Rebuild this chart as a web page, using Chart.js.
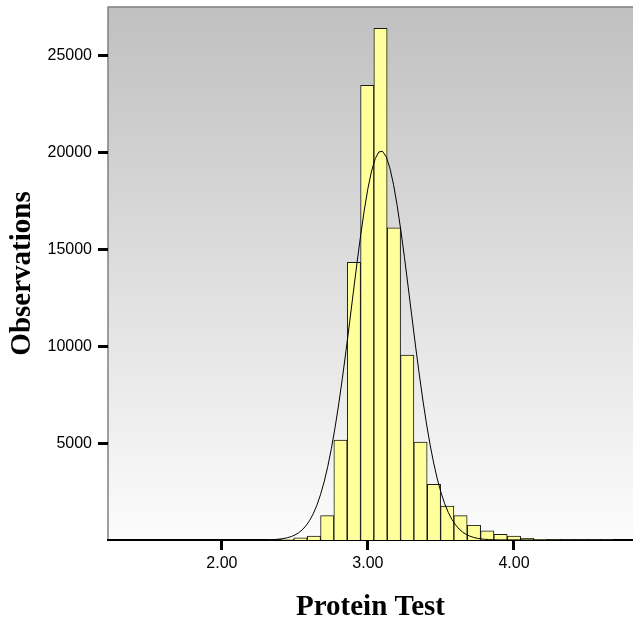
<!DOCTYPE html>
<html>
<head>
<meta charset="utf-8">
<script src="https://cdn.jsdelivr.net/npm/chart.js@4/dist/chart.umd.min.js"></script>
<style>
  html, body { margin: 0; padding: 0; background: #ffffff; }
  #wrap { width: 633px; height: 628px; }
</style>
</head>
<body>
<div id="wrap"><canvas id="chart" width="633" height="628"></canvas></div>
<script>
// histogram bins (centre of each bin) and counts
const binCentres = [2.356, 2.447, 2.538, 2.630, 2.721, 2.812, 2.904, 2.995, 3.086, 3.178,
    3.269, 3.360, 3.452, 3.543, 3.634, 3.726, 3.817, 3.908, 4.000, 4.091,
    4.182, 4.274, 4.365, 4.456, 4.548, 4.639];
const binCounts = [15, 40, 110, 200, 1255, 5165, 14343, 23485, 26429, 16130,
    9555, 5062, 2877, 1756, 1255, 764, 480, 294, 207, 88,
    40, 20, 10, 8, 6, 5];

// overlaid normal curve, sampled along the x axis
const curveX = [1.30, 2.300, 2.325, 2.350, 2.375, 2.400, 2.425, 2.450, 2.475, 2.500, 2.525,
    2.550, 2.575, 2.600, 2.625, 2.650, 2.675, 2.700, 2.725, 2.750, 2.775,
    2.800, 2.825, 2.850, 2.875, 2.900, 2.925, 2.950, 2.975, 3.000, 3.025,
    3.050, 3.075, 3.100, 3.125, 3.150, 3.175, 3.200, 3.225, 3.250, 3.275,
    3.300, 3.325, 3.350, 3.375, 3.400, 3.425, 3.450, 3.475, 3.500, 3.525,
    3.550, 3.575, 3.600, 3.625, 3.650, 3.675, 3.700, 3.725, 3.750, 3.775,
    3.800, 3.825, 3.850, 3.875, 3.900, 4.70];
const curveY = [0, 8, 13, 21, 34, 52, 80, 120, 178, 259, 372,
    525, 730, 1000, 1347, 1787, 2335, 3003, 3801, 4738, 5817,
    7025, 8356, 9785, 11278, 12800, 14303, 15732, 17037, 18164, 19067,
    19702, 20044, 20075, 19795, 19216, 18365, 17282, 16006, 14595, 13105,
    11584, 10078, 8635, 7284, 6046, 4943, 3978, 3152, 2458, 1887,
    1427, 1063, 778, 561, 399, 279, 192, 130, 87, 57,
    37, 23, 15, 9, 5, 0];

const xTicks = [2, 3, 4];
const yTicks = [5000, 10000, 15000, 20000, 25000];


const backdrop = {
    id: 'backdrop',
    beforeDraw(chart) {
        const { ctx, chartArea: a } = chart;
        const g = ctx.createLinearGradient(0, a.top, 0, a.bottom);
        g.addColorStop(0, '#c0c0c0');
        g.addColorStop(1, '#fcfcfc');
        ctx.save();
        ctx.fillStyle = g;
        ctx.fillRect(a.left, a.top, a.right - a.left, a.bottom - a.top);
        ctx.strokeStyle = '#808080';
        ctx.lineWidth = 1.5;
        ctx.beginPath();
        ctx.moveTo(a.left, a.bottom);
        ctx.lineTo(a.left, a.top);
        ctx.lineTo(a.right, a.top);
        ctx.stroke();
        ctx.restore();
    }
};


new Chart(document.getElementById('chart'), {
    type: 'bar',
    data: {
        datasets: [
            {
                type: 'line',
                data: curveX.map((x, i) => ({ x, y: curveY[i] })),
                borderColor: '#000000',
                borderWidth: 1,
                pointRadius: 0,
                fill: false,
                tension: 0,
                order: 0
            },
            {
                type: 'bar',
                data: binCentres.map((x, i) => ({ x, y: binCounts[i] })),
                backgroundColor: '#ffff9c',
                borderColor: '#1a1a1a',
                borderWidth: 1,
                barPercentage: 1,
                categoryPercentage: 1,
                grouped: false,
                order: 1
            }
        ]
    },
    options: {
        responsive: false,
        animation: false,
        layout: { padding: { top: 7, right: 0, bottom: 0, left: 0 } },
        plugins: {
            legend: { display: false },
            tooltip: { enabled: false }
        },
        scales: {
            x: {
                type: 'linear',
                min: 1.22,
                max: 4.815,
                offset: false,
                z: 1,
                afterBuildTicks: s => { s.ticks = xTicks.map(v => ({ value: v })); },
                afterFit: s => {
                    s.height = 88;
                    s.paddingLeft = 0;
                    s.paddingRight = 0;
                },
                grid: {
                    display: true,
                    offset: false,
                    drawOnChartArea: false,
                    drawTicks: true,
                    tickLength: 10,
                    tickWidth: 3,
                    tickColor: '#000000'
                },
                border: { display: true, color: '#000000', width: 2 },
                ticks: {
                    color: '#000000',
                    padding: 4,
                    maxRotation: 0,
                    font: { family: 'Liberation Sans', size: 16 },
                    callback: v => Number(v).toFixed(2)
                },
                title: {
                    display: true,
                    text: 'Protein Test',
                    color: '#000000',
                    padding: { top: 0, bottom: 3 },
                    font: { family: 'Liberation Serif', size: 29, weight: 'bold' }
                }
            },
            y: {
                type: 'linear',
                min: 0,
                max: 27530,
                afterBuildTicks: s => { s.ticks = yTicks.map(v => ({ value: v })); },
                afterFit: s => {
                    s.width = 108;
                    s.paddingTop = 0;
                    s.paddingBottom = 0;
                },
                grid: {
                    display: true,
                    drawOnChartArea: false,
                    drawTicks: true,
                    tickLength: 10,
                    tickWidth: 3,
                    tickColor: '#000000'
                },
                border: { display: false },
                ticks: {
                    color: '#000000',
                    padding: 6,
                    font: { family: 'Liberation Sans', size: 16 },
                    callback: v => String(v)
                },
                title: {
                    display: true,
                    text: 'Observations',
                    color: '#000000',
                    padding: { top: 5, bottom: 0 },
                    font: { family: 'Liberation Serif', size: 29, weight: 'bold' }
                }
            }
        }
    },
    plugins: [backdrop]
});
</script>
</body>
</html>
